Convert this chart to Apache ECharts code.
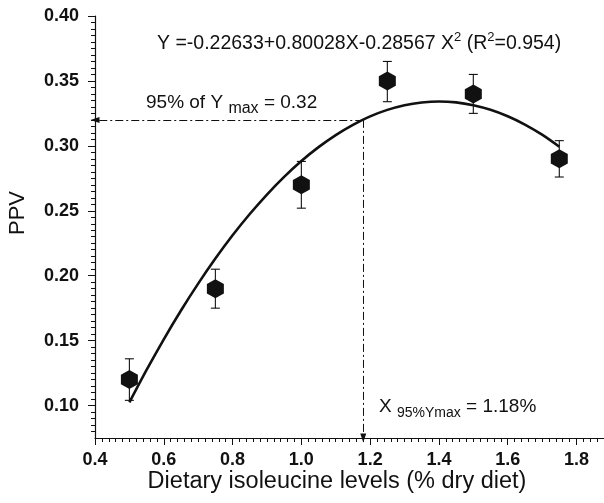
<!DOCTYPE html>
<html>
<head>
<meta charset="utf-8">
<script src="https://cdn.jsdelivr.net/npm/echarts@6/dist/echarts.min.js"></script>
<style>
  html, body { margin: 0; padding: 0; background: #fff; }
  #chart { width: 604px; height: 503px; }
</style>
</head>
<body>
<div id="chart"></div>
<script>
// measured points (mean, lower, upper of the error bars)
var levels = [0.5, 0.75, 1.0, 1.25, 1.5, 1.75];
var ppv = [0.12, 0.19, 0.27, 0.35, 0.34, 0.29];
var errLow = [0.104, 0.175, 0.252, 0.334, 0.325, 0.276];
var errHigh = [0.136, 0.205, 0.288, 0.365, 0.355, 0.304];

// regression curve
var curveX = [0.5, 0.55, 0.6, 0.65, 0.7, 0.75, 0.8, 0.85, 0.9, 0.95, 1.0, 1.05, 1.1, 1.15,
              1.2, 1.25, 1.3, 1.35, 1.4, 1.45, 1.5, 1.55, 1.6, 1.65, 1.7, 1.75];
var curveY = [0.1024, 0.1274, 0.1510, 0.1732, 0.1939, 0.2132, 0.2311, 0.2475, 0.2625, 0.2761, 0.2883, 0.2990, 0.3083, 0.3162,
              0.3227, 0.3277, 0.3313, 0.3334, 0.3342, 0.3335, 0.3313, 0.3278, 0.3228, 0.3164, 0.3086, 0.2993];

// 95% of Ymax breakpoint
var breakX = 1.18;
var breakY = 0.32;

var xTicks = [0.4, 0.6, 0.8, 1.0, 1.2, 1.4, 1.6, 1.8];
var yTicks = [0.10, 0.15, 0.20, 0.25, 0.30, 0.35, 0.40];
var xMin = 0.4, xMax = 1.88, yMin = 0.075, yMax = 0.40;

function minorTicks(lo, hi, step, majors) {
    var out = [];
    for (var v = lo; v <= hi + 1e-9; v += step) {
        var r = Math.round(v * 1000) / 1000;
        if (majors.indexOf(r) < 0) out.push(r);
    }
    return out;
}
var xMinor = minorTicks(0.42, 1.86, 0.02, xTicks);
var yMinor = minorTicks(0.08, 0.395, 0.005, yTicks);

var ink = '#111';
var font = '"Liberation Sans", Arial, sans-serif';

var myChart = echarts.init(document.getElementById('chart'));

var tickLabel = { color: ink, fontFamily: font, fontWeight: 'bold', fontSize: 18 };

var option = {
    backgroundColor: '#fff',
    animation: false,
    grid: { left: 95, right: 0, top: 16, bottom: 65, containLabel: false, outerBoundsMode: 'none' },
    xAxis: [
        {
            type: 'value', min: xMin, max: xMax,
            axisLine: { lineStyle: { color: ink, width: 1.2 } },
            axisTick: { customValues: xTicks, length: 7, lineStyle: { color: ink } },
            axisLabel: Object.assign({ customValues: xTicks, margin: 13,
                formatter: function (v) { return v.toFixed(1); } }, tickLabel),
            splitLine: { show: false }
        },
        {
            type: 'value', min: xMin, max: xMax, position: 'bottom',
            axisLine: { show: false },
            axisTick: { customValues: xMinor, length: 4, lineStyle: { color: ink } },
            axisLabel: { show: false },
            splitLine: { show: false }
        }
    ],
    yAxis: [
        {
            type: 'value', min: yMin, max: yMax,
            axisLine: { show: true, lineStyle: { color: ink, width: 1.2 } },
            axisTick: { show: true, customValues: yTicks, length: 7, lineStyle: { color: ink } },
            axisLabel: Object.assign({ customValues: yTicks, margin: 16,
                formatter: function (v) { return v.toFixed(2); } }, tickLabel),
            splitLine: { show: false }
        },
        {
            type: 'value', min: yMin, max: yMax, position: 'left',
            axisLine: { show: false },
            axisTick: { show: true, customValues: yMinor, length: 4, lineStyle: { color: ink } },
            axisLabel: { show: false },
            splitLine: { show: false }
        }
    ],
    graphic: [
        {
            type: 'text', x: 157, y: 44,
            style: {
                text: 'Y =-0.22633+0.80028X-0.28567 X{sup|2} (R{sup|2}=0.954)',
                font: '19.5px ' + font, fill: ink, textVerticalAlign: 'middle',
                rich: { sup: { fontSize: 13, fontFamily: font, fill: ink, padding: [0, 0, 14, 0] } }
            }
        },
        {
            type: 'text', x: 146, y: 103,
            style: {
                text: '95% of Y {sub|max} = 0.32',
                font: '19px ' + font, fill: ink, textVerticalAlign: 'middle',
                rich: { sub: { fontSize: 16, fontFamily: font, fill: ink, padding: [12, 0, 0, 0] } }
            }
        },
        {
            type: 'text', x: 379, y: 407,
            style: {
                text: 'X {sub|95%Ymax} = 1.18%',
                font: '19px ' + font, fill: ink, textVerticalAlign: 'middle',
                rich: { sub: { fontSize: 14, fontFamily: font, fill: ink, padding: [12, 0, 0, 0] } }
            }
        },
        {
            type: 'text', x: 337, y: 482,
            style: {
                text: 'Dietary isoleucine levels (% dry diet)',
                font: '23.5px ' + font, fill: ink, textAlign: 'center', textVerticalAlign: 'middle'
            }
        },
        {
            type: 'text', x: 18, y: 213, rotation: Math.PI / 2,
            style: {
                text: 'PPV',
                font: '22px ' + font, fill: ink, textAlign: 'center', textVerticalAlign: 'middle'
            }
        }
    ],
    series: [
        {
            type: 'line',
            data: curveX.map(function (x, i) { return [x, curveY[i]]; }),
            smooth: 0.3,
            showSymbol: false,
            lineStyle: { color: ink, width: 2.6 },
            z: 3,
            markLine: {
                silent: true,
                symbol: ['none', 'triangle'],
                symbolSize: [6, 9],
                label: { show: false },
                lineStyle: { color: ink, width: 1, type: [8, 3, 2, 3] },
                data: [
                    [{ coord: [breakX, breakY] }, { coord: [xMin, breakY] }],
                    [{ coord: [breakX, breakY] }, { coord: [breakX, yMin] }]
                ]
            }
        },
        {
            type: 'custom',
            data: levels.map(function (x, i) { return [x, errLow[i], errHigh[i]]; }),
            renderItem: function (params, api) {
                var lo = api.coord([api.value(0), api.value(1)]);
                var hi = api.coord([api.value(0), api.value(2)]);
                var cap = 4.5;
                var st = { stroke: ink, lineWidth: 1.1 };
                return {
                    type: 'group',
                    children: [
                        { type: 'line', shape: { x1: lo[0], y1: lo[1], x2: hi[0], y2: hi[1] }, style: st },
                        { type: 'line', shape: { x1: lo[0] - cap, y1: lo[1], x2: lo[0] + cap, y2: lo[1] }, style: st },
                        { type: 'line', shape: { x1: hi[0] - cap, y1: hi[1], x2: hi[0] + cap, y2: hi[1] }, style: st }
                    ]
                };
            },
            z: 2
        },
        {
            type: 'scatter',
            data: levels.map(function (x, i) { return [x, ppv[i]]; }),
            symbol: 'path://M0,-10 L8.66,-5 L8.66,5 L0,10 L-8.66,5 L-8.66,-5 Z',
            symbolSize: [17, 19],
            itemStyle: { color: ink, opacity: 1 },
            z: 4
        }
    ]
};

myChart.setOption(option);
window.addEventListener('resize', function () {
    myChart.resize();
});
</script>
</body>
</html>
